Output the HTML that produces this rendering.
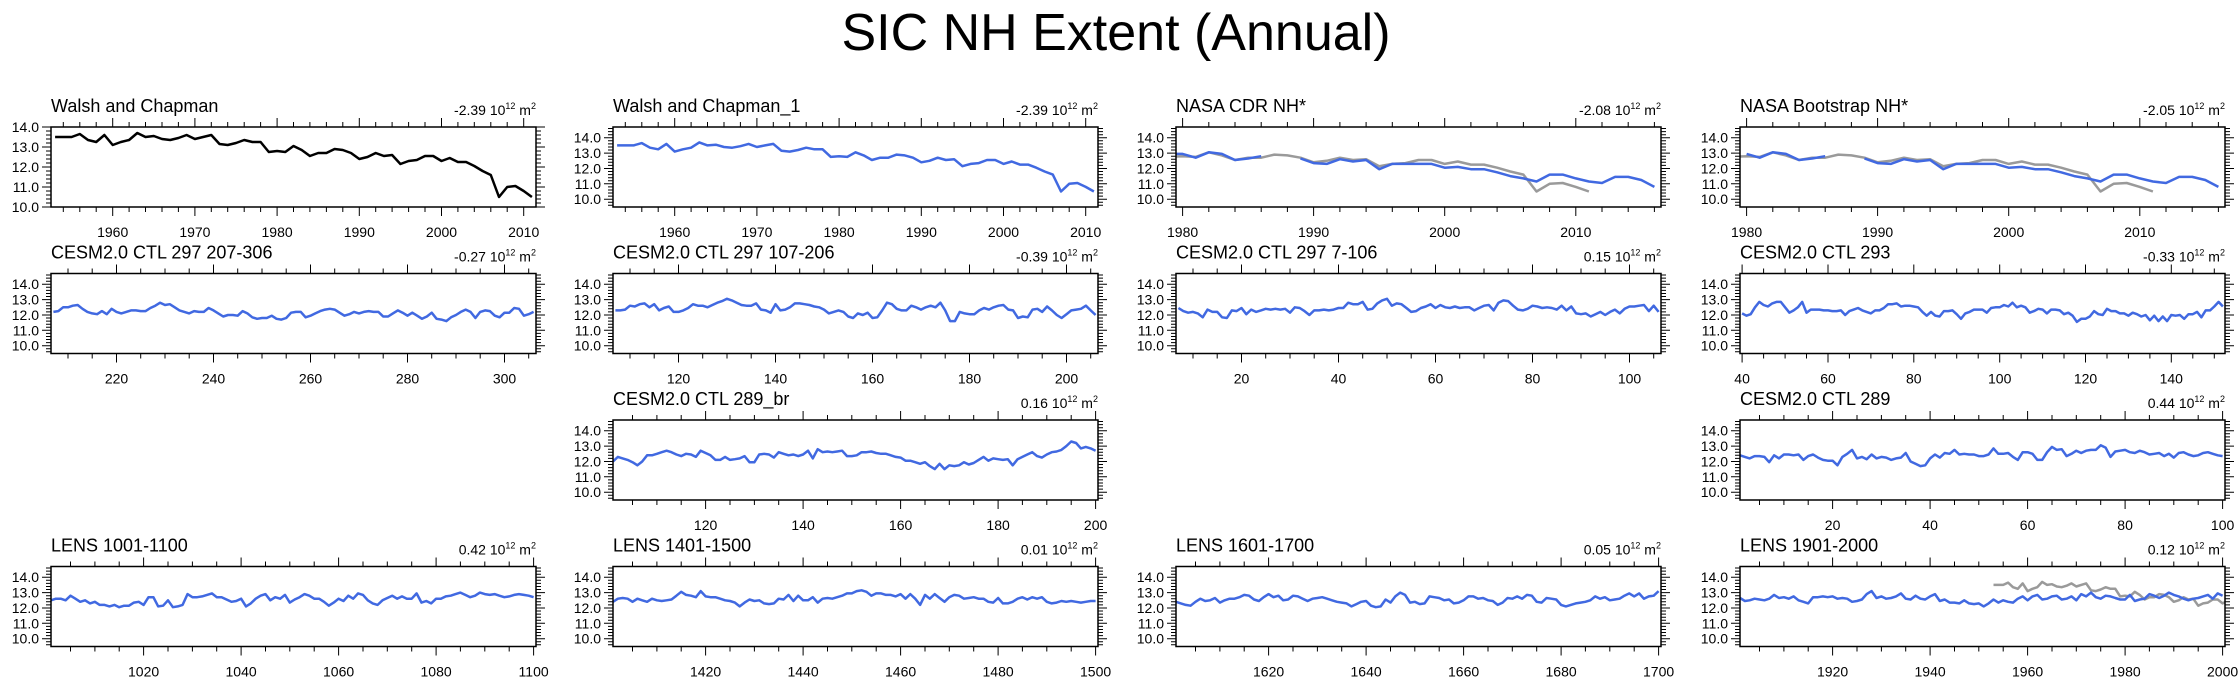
<!DOCTYPE html>
<html><head><meta charset="utf-8"><style>
html,body{margin:0;padding:0;background:#fff;}
svg{display:block;font-family:"Liberation Sans",sans-serif;}
</style></head><body>
<svg id="chart" width="2240" height="681" viewBox="0 0 2240 681" xmlns="http://www.w3.org/2000/svg">
<text x="1116" y="50" font-size="52" text-anchor="middle" fill="#000">SIC NH Extent (Annual)</text>
</svg>
<script>
// ---- data ----
const walshYears0 = 1953;
const walshValues = [13.5,13.5,13.5,13.65,13.35,13.25,13.6,13.1,13.25,13.35,13.7,13.5,13.55,13.4,13.35,13.45,13.6,13.4,13.5,13.6,13.15,13.1,13.2,13.35,13.25,13.25,12.75,12.8,12.75,13.05,12.85,12.55,12.7,12.7,12.9,12.85,12.7,12.4,12.5,12.7,12.55,12.6,12.15,12.3,12.35,12.55,12.55,12.3,12.45,12.25,12.25,12.05,11.8,11.6,10.5,11.0,11.05,10.8,10.5];
const nasaStart = 1979;
const nasaCdrValues = [12.95,12.95,12.7,13.05,12.95,12.55,12.65,12.8,null,null,12.65,12.35,12.3,12.6,12.45,12.55,11.95,12.3,12.3,12.3,12.3,12.05,12.1,11.95,11.95,11.75,11.5,11.35,11.15,11.6,11.6,11.35,11.15,11.05,11.45,11.45,11.25,10.8];
const nasaBootValues = [null,12.95,12.7,13.05,12.95,12.55,12.65,12.8,null,null,12.65,12.35,12.3,12.6,12.45,12.55,11.95,12.3,12.3,12.3,12.3,12.05,12.1,11.95,11.95,11.75,11.5,11.35,11.15,11.6,11.6,11.35,11.15,11.05,11.45,11.45,11.25,10.8];
const ctl297aValues = [12.2,12.25,12.5,12.5,12.6,12.65,12.4,12.2,12.1,12.05,12.25,12.05,12.4,12.2,12.1,12.2,12.3,12.3,12.25,12.25,12.45,12.6,12.8,12.65,12.7,12.5,12.3,12.2,12.1,12.25,12.2,12.2,12.45,12.3,12.1,11.9,12.0,12.0,11.95,12.25,12.1,11.85,11.75,11.8,11.8,11.95,11.75,11.7,11.8,12.15,12.2,12.2,11.85,11.95,12.1,12.25,12.35,12.4,12.35,12.15,11.95,12.05,12.2,12.1,12.2,12.25,12.2,12.2,11.9,11.9,12.1,12.3,12.15,11.95,12.15,11.95,11.75,11.9,12.15,11.75,11.7,11.6,11.85,12.0,12.2,12.35,12.2,11.8,12.2,12.3,12.25,11.95,11.85,12.15,12.15,12.45,12.4,11.95,12.05,12.2];
const ctl297bValues = [12.3,12.3,12.35,12.6,12.55,12.7,12.75,12.5,12.7,12.3,12.45,12.55,12.2,12.2,12.3,12.45,12.7,12.6,12.6,12.5,12.65,12.8,12.9,13.05,12.95,12.8,12.65,12.6,12.6,12.75,12.35,12.3,12.15,12.7,12.3,12.35,12.5,12.75,12.75,12.7,12.65,12.55,12.5,12.35,12.1,12.2,12.3,12.2,11.9,11.8,12.1,12.0,12.15,11.8,11.85,12.3,12.8,12.7,12.4,12.3,12.3,12.6,12.5,12.35,12.5,12.6,12.5,12.8,12.3,11.6,11.6,12.2,12.1,12.05,12.05,12.3,12.45,12.35,12.5,12.6,12.65,12.35,12.3,11.8,11.9,11.85,12.35,12.4,12.2,12.55,12.3,12.0,11.8,12.05,12.3,12.35,12.4,12.6,12.3,12.0];
const ctl297cValues = [12.45,12.25,12.15,12.2,12.1,11.85,12.35,12.2,12.2,11.85,11.8,12.3,12.25,12.45,12.05,12.35,12.2,12.3,12.4,12.35,12.4,12.35,12.4,12.15,12.5,12.45,12.25,12.0,12.3,12.3,12.35,12.3,12.35,12.45,12.45,12.8,12.7,12.7,12.85,12.35,12.4,12.75,12.95,13.05,12.6,12.75,12.7,12.45,12.2,12.25,12.45,12.55,12.7,12.45,12.65,12.5,12.45,12.55,12.45,12.5,12.5,12.3,12.45,12.6,12.65,12.3,12.8,12.95,12.9,12.6,12.35,12.3,12.4,12.6,12.55,12.45,12.5,12.45,12.35,12.6,12.3,12.55,12.1,12.05,12.1,11.9,12.05,12.2,12.0,12.2,12.35,12.1,12.4,12.55,12.55,12.6,12.65,12.25,12.6,12.2];
const ctl293Values = [12.1,11.95,12.05,12.5,12.85,12.65,12.55,12.75,12.85,12.85,12.5,12.15,12.3,12.5,12.85,12.15,12.35,12.35,12.35,12.3,12.3,12.25,12.25,12.3,12.0,12.25,12.35,12.45,12.3,12.2,12.1,12.3,12.3,12.45,12.7,12.7,12.75,12.55,12.6,12.6,12.55,12.5,12.2,11.95,12.2,11.95,11.9,12.25,12.25,12.3,12.05,11.75,12.1,12.2,12.35,12.35,12.35,12.15,12.45,12.5,12.5,12.65,12.55,12.8,12.5,12.6,12.5,12.15,12.25,12.4,12.35,12.1,12.35,12.35,12.3,12.05,12.15,11.95,11.55,11.75,11.75,11.9,12.25,12.05,12.0,12.4,12.25,12.25,12.1,12.1,11.95,12.15,12.05,11.9,12.0,11.65,11.95,11.6,11.9,11.6,12.0,11.95,12.0,11.75,12.05,12.05,12.2,11.85,12.3,12.3,12.55,12.85,12.55];
const ctl289brValues = [12.0,12.3,12.2,12.1,11.95,11.75,12.0,12.4,12.4,12.5,12.6,12.7,12.6,12.45,12.35,12.5,12.45,12.3,12.7,12.55,12.4,12.1,12.1,12.3,12.1,12.15,12.2,12.35,11.95,11.95,12.45,12.5,12.45,12.25,12.6,12.5,12.4,12.45,12.35,12.45,12.7,12.2,12.8,12.6,12.65,12.6,12.65,12.7,12.35,12.35,12.4,12.6,12.6,12.65,12.55,12.5,12.5,12.4,12.3,12.25,12.05,12.05,11.95,11.85,11.95,11.7,11.5,11.85,11.5,11.75,11.7,11.75,11.95,11.8,11.9,12.1,12.3,12.05,12.2,12.15,12.1,12.15,11.75,12.15,12.3,12.45,12.6,12.35,12.25,12.45,12.6,12.65,12.75,13.0,13.3,13.2,12.85,12.95,12.85,12.7];
const ctl289Values = [12.4,12.3,12.2,12.35,12.35,12.3,11.95,12.4,12.2,12.45,12.45,12.4,12.45,12.1,12.35,12.45,12.25,12.1,12.05,12.05,11.75,12.3,12.5,12.75,12.2,12.3,12.15,12.45,12.2,12.3,12.25,12.1,12.2,12.25,12.55,12.0,11.85,11.7,11.75,12.2,12.45,12.25,12.55,12.5,12.75,12.45,12.5,12.45,12.45,12.35,12.35,12.45,12.85,12.5,12.5,12.55,12.3,12.1,12.6,12.6,12.5,12.1,12.1,12.6,12.95,12.75,12.8,12.35,12.5,12.7,12.55,12.7,12.75,12.75,13.05,12.9,12.3,12.65,12.7,12.75,12.6,12.55,12.7,12.6,12.45,12.5,12.55,12.35,12.5,12.25,12.55,12.6,12.45,12.35,12.4,12.55,12.6,12.5,12.4,12.35];
const lens1001Values = [12.5,12.6,12.6,12.5,12.8,12.6,12.4,12.5,12.3,12.4,12.2,12.2,12.1,12.2,12.05,12.15,12.15,12.35,12.4,12.2,12.7,12.7,12.1,12.15,12.5,12.05,12.1,12.2,12.9,12.7,12.7,12.75,12.85,12.95,12.7,12.7,12.55,12.4,12.45,12.6,12.1,12.3,12.6,12.8,12.9,12.5,12.7,12.6,12.85,12.35,12.55,12.7,12.9,12.8,12.6,12.6,12.4,12.15,12.35,12.6,12.45,12.8,12.6,12.95,12.85,12.5,12.3,12.2,12.5,12.65,12.8,12.6,12.75,12.6,12.6,12.95,12.35,12.45,12.3,12.6,12.6,12.75,12.8,12.9,13.0,12.85,12.7,12.8,13.0,12.9,12.85,12.9,12.8,12.7,12.75,12.85,12.9,12.85,12.8,12.7];
const lens1401Values = [12.4,12.6,12.65,12.6,12.4,12.6,12.5,12.4,12.6,12.5,12.45,12.5,12.55,12.8,13.05,12.85,12.8,12.7,13.1,12.75,12.7,12.7,12.6,12.5,12.45,12.35,12.1,12.35,12.55,12.45,12.5,12.3,12.25,12.3,12.6,12.55,12.85,12.45,12.8,12.5,12.5,12.7,12.35,12.6,12.65,12.6,12.7,12.8,12.95,12.95,13.1,13.15,13.05,12.8,12.95,12.95,12.85,12.85,12.75,12.9,12.6,12.9,12.6,12.2,12.85,12.6,12.9,12.65,12.4,12.7,12.85,12.8,12.6,12.65,12.7,12.6,12.6,12.4,12.35,12.65,12.3,12.3,12.4,12.6,12.7,12.55,12.7,12.6,12.7,12.4,12.3,12.35,12.45,12.4,12.45,12.4,12.35,12.4,12.45,12.45];
const lens1601Values = [12.4,12.3,12.2,12.15,12.4,12.6,12.45,12.5,12.65,12.35,12.5,12.6,12.6,12.7,12.85,12.8,12.55,12.45,12.7,12.9,12.7,12.8,12.5,12.55,12.8,12.75,12.6,12.45,12.6,12.65,12.7,12.6,12.5,12.4,12.35,12.3,12.1,12.25,12.4,12.45,12.15,12.05,12.1,12.55,12.35,12.75,13.0,12.85,12.35,12.4,12.25,12.3,12.75,12.7,12.65,12.5,12.55,12.3,12.35,12.5,12.75,12.75,12.6,12.65,12.5,12.45,12.2,12.35,12.65,12.6,12.75,12.6,12.85,12.8,12.4,12.35,12.65,12.6,12.55,12.2,12.1,12.2,12.3,12.35,12.4,12.5,12.75,12.6,12.7,12.5,12.55,12.6,12.8,12.95,12.75,12.95,12.6,12.75,12.8,13.1];
const lens1901Values = [12.65,12.45,12.5,12.6,12.55,12.5,12.6,12.85,12.65,12.7,12.6,12.75,12.5,12.4,12.3,12.7,12.7,12.75,12.7,12.75,12.6,12.65,12.6,12.4,12.45,12.55,12.9,13.1,12.65,12.75,12.6,12.65,12.75,12.95,12.6,12.55,12.8,12.6,12.55,12.75,12.9,12.45,12.55,12.35,12.35,12.3,12.5,12.3,12.25,12.3,12.1,12.3,12.55,12.35,12.5,12.4,12.35,12.6,12.75,12.5,12.75,12.85,12.55,12.6,12.75,12.8,12.55,12.6,12.75,12.5,12.9,12.75,13.0,12.7,12.6,12.8,12.75,12.65,12.55,12.55,12.85,12.45,12.55,12.6,12.9,12.8,12.65,12.8,13.0,12.85,12.75,12.6,12.5,12.6,12.65,12.75,12.85,12.6,12.95,12.8];
const panelTitles = ["Walsh and Chapman","Walsh and Chapman_1","NASA CDR NH*","NASA Bootstrap NH*","CESM2.0 CTL 297 207-306","CESM2.0 CTL 297 107-206","CESM2.0 CTL 297 7-106","CESM2.0 CTL 293","CESM2.0 CTL 289_br","CESM2.0 CTL 289","LENS 1001-1100","LENS 1401-1500","LENS 1601-1700","LENS 1901-2000"];
const trendValues = ["-2.39","-2.39","-2.08","-2.05","-0.27","-0.39","0.15","-0.33","0.16","0.44","0.42","0.01","0.05","0.12"];
const yTicks = [10.0,11.0,12.0,13.0,14.0];

// ---- layout ----
const colX = [51,613,1176,1740];
const rowY = [127,273.5,420,566.5];
const PW = 485, PH = 80;
const BLUE = "#4169E1", GREY = "#9a9a9a";
const NS = "http://www.w3.org/2000/svg";
const svg = document.getElementById('chart');
function el(tag, attrs, parent){const e=document.createElementNS(NS,tag);for(const k in attrs)e.setAttribute(k,attrs[k]);(parent||svg).appendChild(e);return e;}

const panels = [
 {c:0,r:0,xmin:1952.5,xmax:2011.5,ymin:10,ymax:14,major:10,minor:2,first:1960,series:[{start:walshYears0,v:walshValues,col:"#000"}]},
 {c:1,r:0,xmin:1952.5,xmax:2011.5,major:10,minor:2,first:1960,series:[{start:walshYears0,v:walshValues,col:BLUE}]},
 {c:2,r:0,xmin:1979.5,xmax:2016.5,major:10,minor:2,first:1980,series:[{start:walshYears0,v:walshValues,col:GREY},{start:nasaStart,v:nasaCdrValues,col:BLUE}]},
 {c:3,r:0,xmin:1979.5,xmax:2016.5,major:10,minor:2,first:1980,series:[{start:walshYears0,v:walshValues,col:GREY},{start:nasaStart,v:nasaBootValues,col:BLUE}]},
 {c:0,r:1,xmin:206.5,xmax:306.5,major:20,minor:5,first:220,series:[{start:207,v:ctl297aValues,col:BLUE}]},
 {c:1,r:1,xmin:106.5,xmax:206.5,major:20,minor:5,first:120,series:[{start:107,v:ctl297bValues,col:BLUE}]},
 {c:2,r:1,xmin:6.5,xmax:106.5,major:20,minor:5,first:20,series:[{start:7,v:ctl297cValues,col:BLUE}]},
 {c:3,r:1,xmin:39.5,xmax:152.5,major:20,minor:5,first:40,series:[{start:40,v:ctl293Values,col:BLUE}]},
 {c:1,r:2,xmin:101,xmax:200.5,major:20,minor:5,first:120,series:[{start:101,v:ctl289brValues,col:BLUE}]},
 {c:3,r:2,xmin:1,xmax:100.5,major:20,minor:5,first:20,series:[{start:1,v:ctl289Values,col:BLUE}]},
 {c:0,r:3,xmin:1001,xmax:1100.5,major:20,minor:5,first:1020,series:[{start:1001,v:lens1001Values,col:BLUE}]},
 {c:1,r:3,xmin:1401,xmax:1500.5,major:20,minor:5,first:1420,series:[{start:1401,v:lens1401Values,col:BLUE}]},
 {c:2,r:3,xmin:1601,xmax:1700.5,major:20,minor:5,first:1620,series:[{start:1601,v:lens1601Values,col:BLUE}]},
 {c:3,r:3,xmin:1901,xmax:2000.5,major:20,minor:5,first:1920,series:[{start:walshYears0,v:walshValues,col:GREY},{start:1901,v:lens1901Values,col:BLUE}]}
];

panels.forEach((p,pi)=>{
  const X0=colX[p.c], Y0=rowY[p.r];
  const ymin = p.ymin!==undefined?p.ymin:9.49, ymax = p.ymax!==undefined?p.ymax:14.7;
  const xs = v => X0 + (v-p.xmin)/(p.xmax-p.xmin)*PW;
  const ys = v => Y0 + (ymax-v)/(ymax-ymin)*PH;
  const g = el('g',{});
  
  
  const cp = el('clipPath',{id:'cp'+pi},g);
  el('rect',{x:X0,y:Y0,width:PW,height:PH},cp);
  const t = el('text',{x:X0,y:Y0-15,'font-size':18,fill:'#000'},g);
  t.textContent = panelTitles[pi];
  
  
  const tr = el('text',{x:X0+PW,y:Y0-12,'font-size':14,'text-anchor':'end',fill:'#000'},g);
  
  
  tr.innerHTML = trendValues[pi]+' 10<tspan dy="-6" font-size="9">12</tspan><tspan dy="6"> m</tspan><tspan dy="-6" font-size="9">2</tspan>';
  p.series.forEach((s,si)=>{
    let d='', pen=false;
    s.v.forEach((v,i)=>{
      if(v===null){pen=false;return;}
      const yr=s.start+i;
      d += (pen?'L':'M')+xs(yr).toFixed(1)+','+ys(v).toFixed(1);
      pen=true;
    });
    const path = el('path',{d:d,fill:'none',stroke:s.col,'stroke-width':2.5,'stroke-linejoin':'round','clip-path':'url(#cp'+pi+')'},g);
    
    
  });
  el('rect',{x:X0,y:Y0,width:PW,height:PH,fill:'none',stroke:'#000','stroke-width':1.5},g);
  let tk='';
  const startMin = Math.ceil(p.xmin/p.minor)*p.minor;
  for(let v=startMin; v<=p.xmax; v+=p.minor){
    const isMaj = ((v-p.first)%p.major===0);
    const L = isMaj?9:5, x=xs(v).toFixed(1);
    tk += 'M'+x+','+(Y0+PH)+'v'+L+'M'+x+','+Y0+'v-'+L;
    if(isMaj){
      const lb = el('text',{x:x,y:Y0+PH+30,'font-size':14,'text-anchor':'middle',fill:'#000'},g);
      lb.textContent = v;
      
      
    }
  }
  for(let k=0;k<=Math.round((ymax-ymin)/0.2);k++){
    const v = Math.ceil(ymin/0.2)*0.2 + k*0.2;
    if(v>ymax+1e-6) break;
    const isMaj = Math.abs(v-Math.round(v))<1e-6;
    const L = isMaj?9:5, y=ys(v).toFixed(1);
    tk += 'M'+X0+','+y+'h-'+L+'M'+(X0+PW)+','+y+'h'+L;
  }
  yTicks.forEach(v=>{
    const lb = el('text',{x:X0-12,y:(ys(v)+5).toFixed(1),'font-size':14,'text-anchor':'end',fill:'#000'},g);
    lb.textContent = v.toFixed(1);
    
    
  });
  el('path',{d:tk,stroke:'#000','stroke-width':1,fill:'none'},g);
});
</script>
</body></html>
